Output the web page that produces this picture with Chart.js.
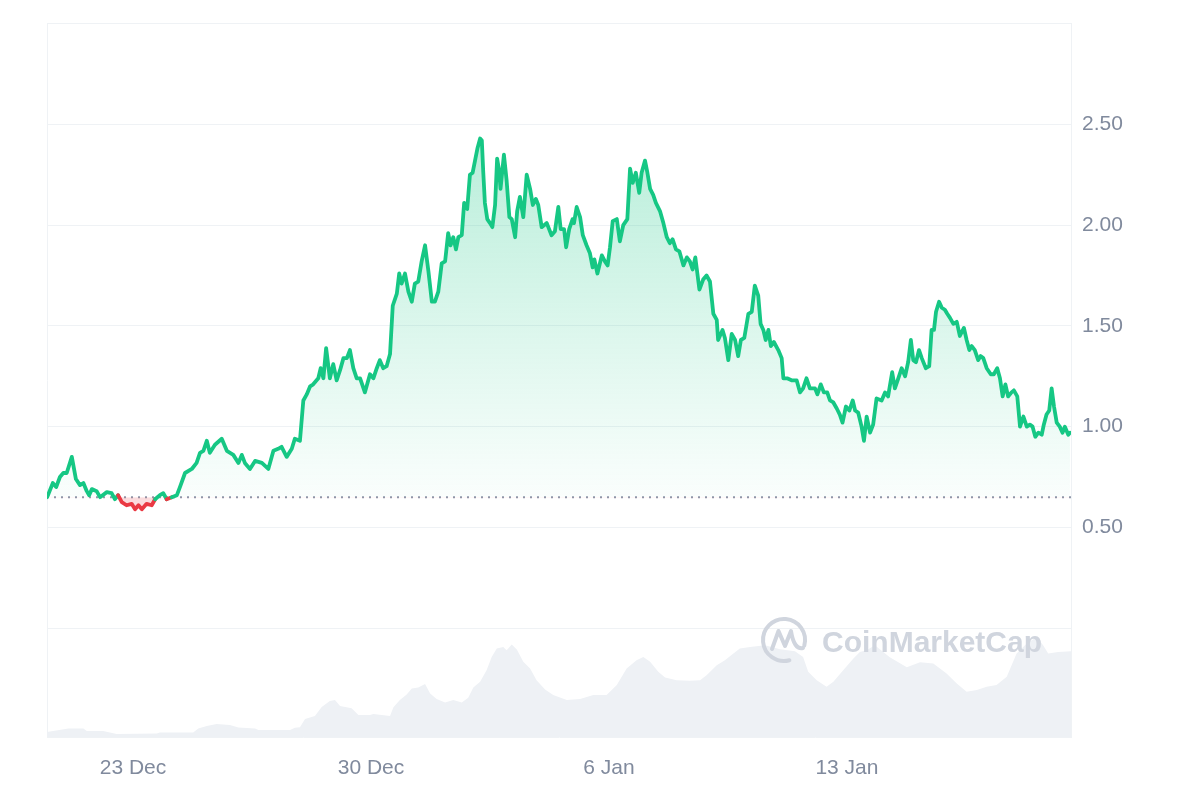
<!DOCTYPE html>
<html>
<head>
<meta charset="utf-8">
<script src="https://cdn.jsdelivr.net/npm/chart.js@4.4.1/dist/chart.umd.min.js"></script>
<style>
  html, body { margin: 0; padding: 0; background: #ffffff; }
  #wrap { position: relative; width: 1200px; height: 800px; overflow: hidden; }
  #c { display: block; }
  #wmLogo { position: absolute; left: 759px; top: 615px; pointer-events: none; }
  #wmText { position: absolute; left: 822px; top: 627px; font-family: "Liberation Sans", Arial, sans-serif;
            font-weight: bold; font-size: 30px; line-height: 1; color: #d0d5de; pointer-events: none; white-space: nowrap; }
</style>
</head>
<body>
<div id="wrap">
  <canvas id="c" width="1200" height="800"></canvas>
  <svg id="wmLogo" width="50" height="50" viewBox="0 0 50 50">
    <path d="M30.4 45.3 A21 21 0 1 1 45.3 30.4" fill="none" stroke="#d0d5de" stroke-width="4" stroke-linecap="round"/>
    <path d="M13 34 L19.5 16 L26 31 L32 16 Q35 35 44 33" fill="none" stroke="#d0d5de" stroke-width="4" stroke-linecap="round" stroke-linejoin="round"/>
  </svg>
  <div id="wmText">CoinMarketCap</div>
</div>
<script>
// ---- data (days since 20 Dec 00:00) ----
const viewStartDay = 0.47;
const viewEndDay = 30.59;
const baselinePrice = 0.65;

const priceDays = [
  0.47,0.50,0.64,0.74,0.85,0.95,1.05,1.20,1.32,1.44,
  1.54,1.64,1.71,1.79,1.93,2.03,2.23,2.37,2.47,2.56,
  2.67,2.81,2.96,3.06,3.16,3.26,3.40,3.55,3.65,3.79,
  3.89,3.99,4.14,4.29,4.38,4.53,4.73,4.87,4.97,5.07,
  5.17,5.26,5.41,5.61,5.76,5.95,6.10,6.20,6.29,6.44,
  6.59,6.79,6.98,7.13,7.27,7.37,7.52,7.67,7.76,7.91,
  8.01,8.11,8.21,8.30,8.45,8.52,8.60,8.68,8.79,8.89,
  8.99,9.09,9.19,9.29,9.38,9.48,9.58,9.68,9.82,9.97,
  10.07,10.17,10.26,10.36,10.46,10.56,10.64,10.76,10.83,10.90,
  11.00,11.10,11.20,11.29,11.39,11.49,11.59,11.69,11.79,11.88,
  11.98,12.08,12.18,12.27,12.34,12.42,12.50,12.57,12.67,12.74,
  12.83,12.91,12.99,13.06,13.13,13.21,13.26,13.30,13.35,13.42,
  13.50,13.57,13.65,13.71,13.77,13.81,13.91,13.99,14.07,14.14,
  14.24,14.30,14.38,14.48,14.58,14.68,14.76,14.85,14.92,15.02,
  15.17,15.31,15.41,15.51,15.58,15.68,15.74,15.83,15.93,15.97,
  16.05,16.15,16.23,16.34,16.44,16.52,16.57,16.66,16.79,16.88,
  16.96,17.03,17.11,17.23,17.32,17.42,17.54,17.62,17.70,17.79,
  17.89,17.96,18.06,18.13,18.21,18.30,18.38,18.50,18.60,18.70,
  18.79,18.87,18.97,19.07,19.19,19.29,19.38,19.46,19.54,19.66,
  19.77,19.87,19.97,20.07,20.17,20.21,20.34,20.41,20.51,20.61,
  20.71,20.80,20.88,20.98,21.10,21.20,21.29,21.39,21.46,21.54,
  21.61,21.69,21.76,21.85,21.98,22.08,22.13,22.24,22.37,22.52,
  22.62,22.71,22.81,22.91,23.06,23.13,23.23,23.32,23.42,23.50,
  23.60,23.70,23.79,23.87,23.97,24.07,24.17,24.24,24.33,24.43,
  24.50,24.58,24.68,24.77,24.87,25.02,25.12,25.21,25.33,25.41,
  25.51,25.61,25.71,25.80,25.88,25.95,26.03,26.12,26.20,26.32,
  26.42,26.49,26.56,26.62,26.71,26.79,26.88,26.95,27.03,27.13,
  27.23,27.32,27.44,27.52,27.60,27.67,27.76,27.86,27.93,28.01,
  28.11,28.23,28.32,28.42,28.50,28.58,28.66,28.74,28.84,28.91,
  29.01,29.09,29.19,29.29,29.38,29.46,29.54,29.63,29.73,29.79,
  29.87,29.95,30.02,30.09,30.17,30.26,30.34,30.41,30.51,30.56
];
const prices = [
  0.65,0.66,0.72,0.70,0.75,0.77,0.77,0.85,0.74,0.71,
  0.72,0.68,0.66,0.69,0.68,0.65,0.675,0.67,0.64,0.66,
  0.625,0.61,0.617,0.59,0.61,0.59,0.617,0.61,0.64,0.66,
  0.67,0.64,0.65,0.66,0.70,0.77,0.79,0.82,0.87,0.88,
  0.93,0.87,0.91,0.94,0.88,0.86,0.82,0.86,0.82,0.79,
  0.83,0.82,0.79,0.88,0.89,0.90,0.85,0.89,0.94,0.93,
  1.13,1.16,1.20,1.21,1.24,1.29,1.24,1.39,1.24,1.31,
  1.23,1.28,1.34,1.34,1.38,1.29,1.24,1.24,1.17,1.26,
  1.24,1.29,1.33,1.29,1.30,1.36,1.60,1.66,1.76,1.71,
  1.76,1.67,1.62,1.71,1.72,1.82,1.90,1.77,1.62,1.62,
  1.67,1.81,1.82,1.96,1.90,1.94,1.88,1.94,1.95,2.11,
  2.08,2.25,2.26,2.32,2.38,2.43,2.42,2.27,2.11,2.03,
  2.01,1.99,2.10,2.33,2.27,2.18,2.35,2.22,2.04,2.03,
  1.94,2.07,2.14,2.04,2.25,2.18,2.10,2.13,2.10,1.99,
  2.01,1.95,1.97,2.09,1.98,1.98,1.89,1.98,2.03,2.01,
  2.09,2.04,1.95,1.90,1.86,1.79,1.83,1.76,1.85,1.82,
  1.80,1.89,2.02,2.03,1.92,2.00,2.03,2.28,2.21,2.26,
  2.16,2.26,2.32,2.26,2.18,2.15,2.11,2.07,2.01,1.94,
  1.91,1.93,1.88,1.87,1.80,1.84,1.82,1.78,1.84,1.68,
  1.73,1.75,1.72,1.56,1.53,1.43,1.48,1.44,1.33,1.46,
  1.43,1.35,1.43,1.44,1.56,1.57,1.70,1.65,1.51,1.48,
  1.43,1.48,1.40,1.42,1.38,1.34,1.24,1.24,1.23,1.23,
  1.17,1.19,1.24,1.19,1.19,1.16,1.21,1.17,1.17,1.13,
  1.12,1.09,1.06,1.02,1.10,1.08,1.13,1.08,1.07,1.00,
  0.93,1.05,0.97,1.01,1.14,1.13,1.17,1.15,1.27,1.19,
  1.24,1.29,1.25,1.32,1.43,1.33,1.32,1.38,1.34,1.29,
  1.30,1.48,1.48,1.57,1.62,1.59,1.58,1.56,1.54,1.51,
  1.52,1.45,1.49,1.43,1.38,1.40,1.38,1.33,1.35,1.34,
  1.29,1.26,1.26,1.29,1.24,1.15,1.21,1.15,1.17,1.18,
  1.15,1.00,1.05,1.00,1.01,1.00,0.95,0.97,0.96,1.01,
  1.06,1.08,1.19,1.10,1.02,1.00,0.97,1.00,0.96,0.97
];

const volumeDays = [
  0.47,1.10,1.54,1.64,2.12,2.52,3.70,3.79,4.77,4.92,
  5.17,5.46,5.85,6.10,6.59,6.69,7.62,7.76,7.91,8.06,
  8.35,8.55,8.79,8.94,9.09,9.43,9.63,9.97,10.07,10.56,
  10.66,10.85,11.05,11.20,11.39,11.59,11.74,11.93,12.18,12.42,
  12.67,12.86,13.01,13.21,13.40,13.55,13.70,13.89,13.99,14.14,
  14.29,14.48,14.68,14.87,15.12,15.36,15.76,16.15,16.54,16.93,
  17.23,17.52,17.81,18.01,18.21,18.45,18.65,18.99,19.38,19.68,
  19.87,20.17,20.41,20.66,20.85,21.15,21.59,22.03,22.47,22.71,
  22.86,23.11,23.40,23.60,23.89,24.19,24.38,24.58,24.82,25.26,
  25.76,26.15,26.54,26.93,27.23,27.52,27.82,28.11,28.40,28.70,
  28.99,29.29,29.58,29.77,29.92,30.21,30.59
];
const volumes = [
  5,8.5,8.5,6,6,3,3.5,4.5,4.5,8.5,
  11,13,12,9.5,8.5,7,7,9.3,9.7,18,
  21,30,36,37,31,28.7,22,22,23,21,
  29.7,37,42.7,48.7,49.7,53,43.7,38,34.7,37,
  34.7,39.3,49.7,55.3,67,80.3,88.7,90.3,87,92.7,
  87.7,75.3,68.7,57,47.7,42,37,38,42,42,
  52,68.7,77,80.3,75.3,65.3,59.7,57,56.3,57,
  62,72,77,83.7,88.7,90.3,92,88,86,80.3,
  65.3,57,50.3,55.3,67,78.7,85.3,87,92,80,
  70,75,73.7,63.7,53.7,45.3,47,50.3,52,60.3,
  83.7,93.7,100.3,92,83.7,85.3,86
];
const volumeAxisMax = 715;

const xTickDays = [3, 10, 17, 24];
const xTickLabels = ['23 Dec', '30 Dec', '6 Jan', '13 Jan'];
const yGridValues = [0, 0.5, 1, 1.5, 2, 2.5, 3];
const yTickValues = [0.5, 1, 1.5, 2, 2.5];

// ---- chart ----
const GREEN = '#16c784';
const RED = '#ea3943';
const GRID = '#eff2f5';
const TEXT = '#808a9d';
const FONT = "'Liberation Sans', Arial, sans-serif";

const chart = new Chart(document.getElementById('c'), {
  type: 'line',
  data: {
    datasets: [
      {
        label: 'Price',
        data: priceDays.map((d, i) => ({ x: d, y: prices[i] })),
        yAxisID: 'y',
        borderColor: GREEN,
        borderWidth: 3.8,
        pointRadius: 0,
        tension: 0,
        borderJoinStyle: 'round',
        borderCapStyle: 'round',
        segment: {
          borderColor: c => ((c.p0.parsed.y + c.p1.parsed.y) / 2 < baselinePrice ? RED : GREEN)
        },
        fill: { target: { value: baselinePrice }, above: 'rgba(22,199,132,0.12)', below: 'rgba(234,57,67,0.18)' },
        order: 0
      },
      {
        label: 'Open',
        data: [{ x: viewStartDay, y: baselinePrice }, { x: viewEndDay, y: baselinePrice }],
        yAxisID: 'y',
        borderColor: '#8f98aa',
        borderWidth: 2,
        borderDash: [2, 5],
        pointRadius: 0,
        fill: false,
        order: 1
      },
      {
        label: 'Volume',
        data: volumeDays.map((d, i) => ({ x: d, y: volumes[i] })),
        yAxisID: 'yv',
        borderWidth: 0,
        borderColor: 'rgba(0,0,0,0)',
        backgroundColor: '#eef1f5',
        fill: 'origin',
        pointRadius: 0,
        tension: 0,
        order: 2
      }
    ]
  },
  options: {
    responsive: false,
    animation: false,
    devicePixelRatio: 1,
    layout: { padding: { top: 22, left: 0, right: 0, bottom: 0 } },
    events: [],
    plugins: { legend: { display: false }, tooltip: { enabled: false } },
    scales: {
      x: {
        type: 'linear',
        position: 'bottom',
        min: viewStartDay,
        max: viewEndDay,
        afterBuildTicks: s => { s.ticks = xTickDays.map(v => ({ value: v })); },
        afterFit: s => { s.height = 63; },
        grid: { display: false, drawTicks: false },
        border: { display: true, color: GRID },
        ticks: {
          autoSkip: false, maxRotation: 0, padding: 19,
          color: TEXT, font: { family: FONT, size: 21 },
          callback: (v, i) => xTickLabels[i]
        }
      },
      y: {
        type: 'linear',
        position: 'right',
        min: -0.54,
        max: 3.0,
        afterBuildTicks: s => { s.ticks = yGridValues.map(v => ({ value: v })); },
        afterFit: s => { s.width = 129; },
        grid: { color: GRID, lineWidth: 1, drawTicks: false },
        border: { display: true, color: GRID },
        ticks: {
          padding: 11, color: TEXT, font: { family: FONT, size: 21 },
          callback: v => (yTickValues.includes(v) ? v.toFixed(2) : '')
        }
      },
      yv: {
        type: 'linear',
        position: 'left',
        min: 0,
        max: volumeAxisMax,
        afterFit: s => { s.width = 47; },
        grid: { display: false, drawTicks: false },
        border: { display: true, color: GRID },
        ticks: { display: false }
      }
    }
  }
});

// green gradient fill above the opening price
const ys = chart.scales.y;
const grad = chart.ctx.createLinearGradient(0, ys.getPixelForValue(2.45), 0, ys.getPixelForValue(baselinePrice));
grad.addColorStop(0, 'rgba(22,199,132,0.30)');
grad.addColorStop(1, 'rgba(22,199,132,0.02)');
chart.data.datasets[0].fill = { target: { value: baselinePrice }, above: grad, below: 'rgba(234,57,67,0.18)' };
chart.update('none');
</script>
</body>
</html>
